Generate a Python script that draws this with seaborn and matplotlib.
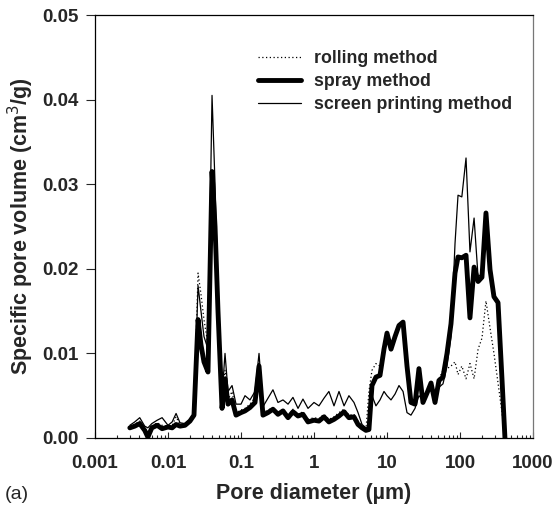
import numpy as np
import pandas as pd
import matplotlib
matplotlib.use("Agg")
import matplotlib.pyplot as plt
import matplotlib.ticker as mticker
import seaborn as sns

# pore diameter (um), shared by the three curves
diameter = [0.0030, 0.0035, 0.0041, 0.0048, 0.0053, 0.0060, 0.0071, 0.0083,
            0.0100, 0.0114, 0.0129, 0.0146, 0.0171, 0.0200, 0.0227, 0.0258,
            0.0283, 0.0311, 0.0353, 0.0401, 0.0441, 0.0484, 0.0550, 0.0604,
            0.0664, 0.0754, 0.0855, 0.100, 0.1135, 0.1327, 0.1556, 0.1766,
            0.200, 0.234, 0.274, 0.321, 0.376, 0.441, 0.515, 0.604, 0.706,
            0.828, 1.00, 1.17, 1.37, 1.60, 1.88, 2.20, 2.58, 3.01, 3.53,
            4.01, 4.55, 5.15, 5.66, 6.23, 7.06, 8.02, 9.10, 10.0, 11.35,
            12.9, 14.6, 16.6, 18.8, 21.3, 24.2, 27.4, 31.1, 35.3, 40.1,
            45.5, 51.5, 58.5, 66.4, 75.3, 85.5, 94.0, 106, 121, 137, 156,
            177, 200, 227, 258, 292, 332, 376, 413]

spray = [0.0012, 0.0014, 0.0017, 0.0009, 0.0001, 0.0012, 0.0015, 0.0011,
         0.0013, 0.0012, 0.0016, 0.0014, 0.0015, 0.0020, 0.0027, 0.0140,
         0.0110, 0.0090, 0.0078, 0.0315, 0.0250, 0.0150, 0.0035, 0.0070,
         0.0040, 0.0045, 0.0027, 0.0030, 0.0032, 0.0036, 0.0042, 0.0085,
         0.0027, 0.0030, 0.0034, 0.0028, 0.0032, 0.0024, 0.0031, 0.0026,
         0.0028, 0.0019, 0.0021, 0.0020, 0.0025, 0.0019, 0.0022, 0.0026,
         0.0031, 0.0024, 0.0025, 0.0016, 0.0012, 0.0009, 0.0010, 0.0062,
         0.0072, 0.0074, 0.0105, 0.0124, 0.0105, 0.0120, 0.0133, 0.0137,
         0.0085, 0.0042, 0.0040, 0.0082, 0.0042, 0.0053, 0.0065, 0.0042,
         0.0068, 0.0072, 0.0100, 0.0135, 0.0195, 0.0214, 0.0213, 0.0216,
         0.0142, 0.0202, 0.0185, 0.0190, 0.0266, 0.0199, 0.0167, 0.0160,
         0.0070, 0.0000]

screen = [0.0015, 0.0019, 0.0024, 0.0014, 0.0012, 0.0017, 0.0021, 0.0024,
          0.0015, 0.0019, 0.0029, 0.0018, 0.0017, 0.0022, 0.0030, 0.0180,
          0.0150, 0.0120, 0.0105, 0.0405, 0.0300, 0.0170, 0.0050, 0.0100,
          0.0055, 0.0062, 0.0040, 0.0040, 0.0050, 0.0045, 0.0055, 0.0100,
          0.0037, 0.0047, 0.0057, 0.0042, 0.0045, 0.0040, 0.0048, 0.0035,
          0.0046, 0.0035, 0.0042, 0.0038, 0.0047, 0.0055, 0.0038, 0.0055,
          0.0038, 0.0050, 0.0042, 0.0030, 0.0016, 0.0012, 0.0013, 0.0050,
          0.0038, 0.0045, 0.0055, 0.0050, 0.0045, 0.0052, 0.0062, 0.0055,
          0.0030, 0.0027, 0.0035, 0.0050, 0.0045, 0.0055, 0.0062, 0.0045,
          0.0060, 0.0064, 0.0085, 0.0120, 0.0230, 0.0287, 0.0285, 0.0331,
          0.0220, 0.0260, 0.0190, 0.0195, 0.0262, 0.0200, 0.0168, 0.0160,
          0.0070, 0.0000]

rolling = [0.0013, 0.0016, 0.0020, 0.0012, 0.0006, 0.0014, 0.0018, 0.0015,
           0.0014, 0.0015, 0.0025, 0.0016, 0.0016, 0.0021, 0.0029, 0.0195,
           0.0170, 0.0140, 0.0110, 0.0285, 0.0240, 0.0160, 0.0045, 0.0080,
           0.0045, 0.0055, 0.0030, 0.0033, 0.0035, 0.0040, 0.0048, 0.0090,
           0.0030, 0.0033, 0.0036, 0.0030, 0.0034, 0.0026, 0.0034, 0.0028,
           0.0031, 0.0022, 0.0024, 0.0023, 0.0028, 0.0022, 0.0025, 0.0030,
           0.0034, 0.0027, 0.0028, 0.0020, 0.0015, 0.0010, 0.0055, 0.0080,
           0.0088, 0.0085, 0.0100, 0.0120, 0.0105, 0.0118, 0.0130, 0.0135,
           0.0085, 0.0045, 0.0043, 0.0080, 0.0045, 0.0055, 0.0066, 0.0046,
           0.0070, 0.0080, 0.0082, 0.0085, 0.0090, 0.0075, 0.0085, 0.0070,
           0.0088, 0.0070, 0.0105, 0.0118, 0.0162, 0.0130, 0.0100, 0.0065,
           0.0030, 0.0000]

methods = ["rolling method", "spray method", "screen printing method"]
x_ticks = [0.001, 0.01, 0.1, 1, 10, 100, 1000]
y_ticks = [0, 0.01, 0.02, 0.03, 0.04, 0.05]

df = pd.DataFrame({
    "d": diameter * 3,
    "v": rolling + spray + screen,
    "method": [methods[0]] * len(diameter) + [methods[1]] * len(diameter) + [methods[2]] * len(diameter),
})

sns.set_style("ticks")
plt.rcParams['font.family'] = ['Liberation Sans', 'DejaVu Sans']

fig = plt.figure(figsize=(5.53, 5.09), dpi=100)
ax = fig.add_axes([0.1718, 0.1395, 0.792, 0.831])

sns.lineplot(data=df, x="d", y="v", hue="method", style="method", size="method",
             palette={m: "black" for m in methods},
             dashes={methods[0]: (1, 2), methods[1]: "", methods[2]: ""},
             sizes={methods[0]: 0.9, methods[1]: 3.5, methods[2]: 0.9},
             hue_order=methods, sort=False, estimator=None, ax=ax)

ax.set_xscale("log")
ax.set_xlim(0.001, 1000)
ax.set_ylim(0, 0.05)
ax.set_yticks(y_ticks)
ax.yaxis.set_major_formatter(mticker.FormatStrFormatter("%.2f"))
ax.set_xticks(x_ticks)
ax.set_xticklabels([f"{v:g}" for v in x_ticks])
ax.xaxis.set_minor_locator(mticker.LogLocator(base=10, subs=np.arange(2, 10), numticks=20))
ax.xaxis.set_minor_formatter(mticker.NullFormatter())

ax.tick_params(axis="x", which="major", direction="in", length=4, width=0.8, pad=12)
ax.tick_params(axis="x", which="minor", direction="in", length=2.5, width=0.8)
ax.tick_params(axis="y", which="major", direction="out", length=6.5, width=0.8, pad=5)
for lab in ax.get_xticklabels() + ax.get_yticklabels():
    lab.set_fontweight("bold")
    lab.set_fontsize(13.5)

for s in ax.spines.values():
    s.set_visible(True)
    s.set_linewidth(0.9)
    s.set_color("black")
ax.spines["right"].set_color("#777777")

ax.set_xlabel("Pore diameter (µm)", fontsize=15.5, fontweight="bold", labelpad=8)
ax.set_ylabel("Specific pore volume (cm$^3$/g)", fontsize=15.5, fontweight="bold", labelpad=5)
fig.text(0.008, 0.02, "(a)", fontsize=14)

leg = ax.legend(loc="upper right", bbox_to_anchor=(0.99, 0.955), frameon=False,
                handlelength=2.4, handletextpad=0.75, labelspacing=0.35,
                prop={"weight": "bold", "size": 12.8})

fig.savefig("out.png", dpi=100)
